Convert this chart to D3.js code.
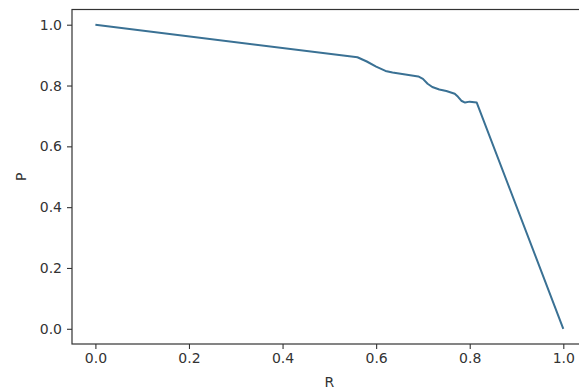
<!DOCTYPE html>
<html>
<head>
<meta charset="utf-8">
<script src="https://cdn.jsdelivr.net/npm/d3@7"></script>
<style>
  html, body { margin: 0; padding: 0; background: #fff; }
  svg { display: block; font-family: 'DejaVu Sans', sans-serif; }
</style>
</head>
<body>
<div id="chart"></div>
<script>
// precision / recall curve
const recall    = [0.0, 0.56, 0.58, 0.60, 0.62, 0.635, 0.69, 0.70, 0.71, 0.72, 0.735, 0.75, 0.768, 0.775, 0.782, 0.79, 0.80, 0.815, 1.0];
const precision = [1.0, 0.893, 0.879, 0.862, 0.848, 0.843, 0.830, 0.822, 0.806, 0.795, 0.787, 0.782, 0.773, 0.763, 0.750, 0.744, 0.747, 0.744, 0.0];
const xTicks = [0.0, 0.2, 0.4, 0.6, 0.8, 1.0];
const yTicks = [0.0, 0.2, 0.4, 0.6, 0.8, 1.0];

const width = 579, height = 392;
// axes box (right edge runs past the picture, as in the original)
const box = { left: 72, right: 586.7, top: 9.5, bottom: 344 };

const svg = d3.select("#chart").append("svg")
  .attr("width", width)
  .attr("height", height);

const x = d3.scaleLinear().domain([-0.05, 1.05]).range([box.left, box.right]);
const y = d3.scaleLinear().domain([-0.05, 1.05]).range([box.bottom, box.top]);

const ink = "#333";

// curve
const pts = recall.map((r, i) => [r, precision[i]]);
svg.append("path")
  .datum(pts)
  .attr("fill", "none")
  .attr("stroke", "#3a7194")
  .attr("stroke-width", 2)
  .attr("stroke-linejoin", "round")
  .attr("d", d3.line().x(d => x(d[0])).y(d => y(d[1])));

// axes
const xAxis = d3.axisBottom(x).tickValues(xTicks).tickFormat(d3.format(".1f"))
  .tickSizeInner(5).tickSizeOuter(0).tickPadding(4);
const yAxis = d3.axisLeft(y).tickValues(yTicks).tickFormat(d3.format(".1f"))
  .tickSizeInner(5).tickSizeOuter(0).tickPadding(5);

const gx = svg.append("g").attr("transform", `translate(0,${box.bottom})`).call(xAxis);
const gy = svg.append("g").attr("transform", `translate(${box.left},0)`).call(yAxis);

[gx, gy].forEach(g => {
  g.select(".domain").remove();
  g.selectAll(".tick line").attr("stroke", ink).attr("stroke-width", 1.1);
  g.selectAll(".tick text").attr("fill", ink).style("font-size", "14px")
    .style("font-family", "'DejaVu Sans', sans-serif");
});

// spines
svg.append("rect")
  .attr("x", box.left).attr("y", box.top)
  .attr("width", box.right - box.left).attr("height", box.bottom - box.top)
  .attr("fill", "none").attr("stroke", ink).attr("stroke-width", 1.2);

// axis labels
svg.append("text")
  .attr("x", (box.left + box.right) / 2).attr("y", 387)
  .attr("text-anchor", "middle").attr("fill", ink)
  .style("font-size", "14px").text("R");

svg.append("text")
  .attr("transform", `translate(26,${(box.top + box.bottom) / 2}) rotate(-90)`)
  .attr("text-anchor", "middle").attr("fill", ink)
  .style("font-size", "14px").text("P");
</script>
</body>
</html>
